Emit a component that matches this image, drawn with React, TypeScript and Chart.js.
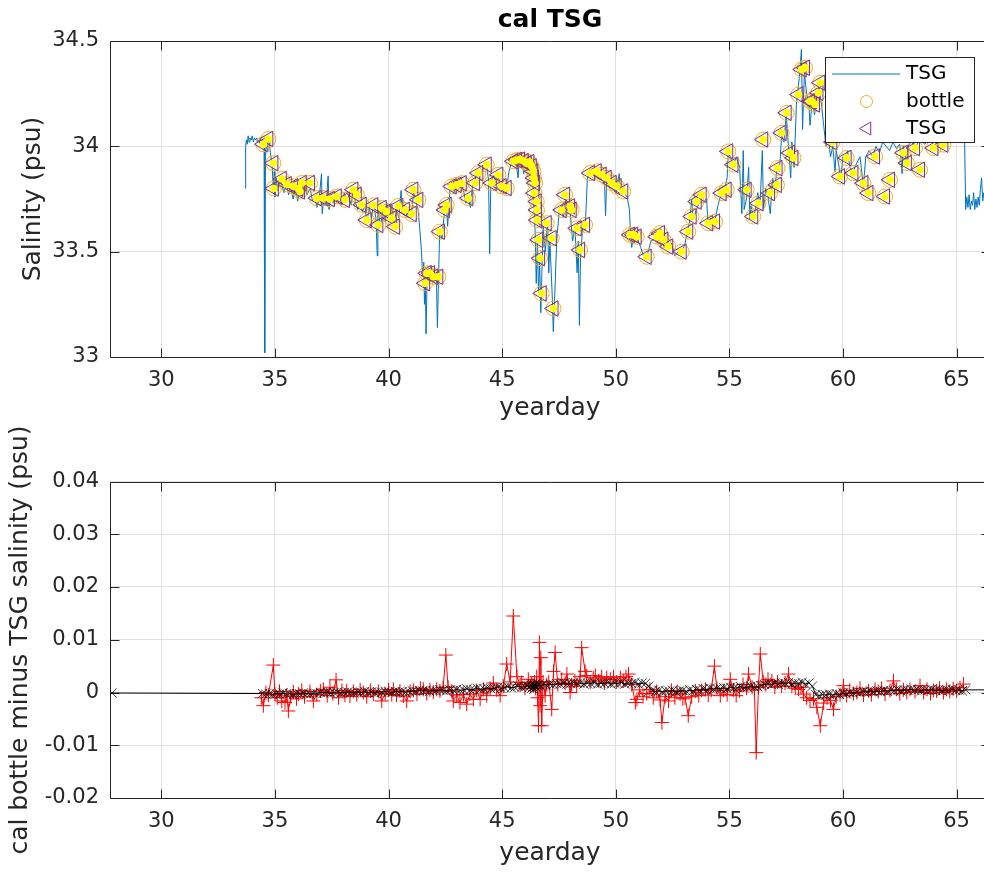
import React, { useEffect, useRef } from "react";
import { Chart, registerables } from "chart.js";
Chart.register(...registerables);

const FONT = "'DejaVu Sans', sans-serif";
const TEXT = "#262626";
const GRID = "#e1e1e1";
const BLUE = "#0072BD";
const ORANGE = "#EDB120";
const PURPLE = "#7E2F8E";
const YELLOW = "#FFFF00";

// ---------- tick values ----------
const xTicks = [30, 35, 40, 45, 50, 55, 60, 65];
const yTicksTop = [33, 33.5, 34, 34.5];
const yTicksBottom = [-0.02, -0.01, 0, 0.01, 0.02, 0.03, 0.04];
const legendLabels = ["TSG", "bottle", "TSG"];

// ---------- TSG underway record (yearday, psu) ----------
const tsgDay = [
  33.70, 33.71, 33.74, 33.78, 33.82, 33.86, 33.90, 33.95, 34.00, 34.05, 34.10, 34.15, 34.20, 34.25, 34.30, 34.35, 34.45, 34.52, 34.55, 34.58,
  34.65, 34.72, 34.80, 34.88, 34.93, 34.97, 35.00, 35.05, 35.10, 35.20, 35.30, 35.40, 35.50, 35.60, 35.70, 35.80, 35.90, 36.00, 36.10, 36.20,
  36.30, 36.40, 36.55, 36.65, 36.75, 36.85, 36.95, 37.05, 37.08, 37.15, 37.25, 37.34, 37.38, 37.45, 37.55, 37.65, 37.75, 37.85, 37.95, 38.05,
  38.15, 38.25, 38.35, 38.45, 38.55, 38.65, 38.75, 38.85, 38.95, 39.05, 39.15, 39.25, 39.35, 39.45, 39.50, 39.53, 39.65, 39.75, 39.85, 39.95,
  40.05, 40.15, 40.25, 40.35, 40.45, 40.55, 40.60, 40.70, 40.80, 40.90, 41.00, 41.10, 41.20, 41.30, 41.38, 41.45, 41.50, 41.55, 41.58, 41.62,
  41.65, 41.70, 41.80, 41.90, 42.00, 42.10, 42.15, 42.20, 42.25, 42.35, 42.45, 42.55, 42.60, 42.70, 42.80, 42.90, 43.00, 43.10, 43.20, 43.30,
  43.40, 43.50, 43.60, 43.70, 43.80, 43.90, 44.00, 44.10, 44.20, 44.30, 44.40, 44.45, 44.50, 44.60, 44.70, 44.80, 44.90, 45.00, 45.10, 45.20,
  45.30, 45.40, 45.50, 45.60, 45.70, 45.75, 45.85, 45.95, 46.00, 46.10, 46.20, 46.28, 46.35, 46.40, 46.45, 46.50, 46.55, 46.60, 46.65, 46.70,
  46.75, 46.80, 46.90, 47.00, 47.05, 47.10, 47.20, 47.25, 47.30, 47.40, 47.50, 47.60, 47.70, 47.80, 47.90, 48.00, 48.10, 48.20, 48.30, 48.35,
  48.40, 48.45, 48.55, 48.65, 48.75, 48.85, 48.95, 49.05, 49.20, 49.35, 49.50, 49.55, 49.60, 49.75, 49.90, 50.05, 50.15, 50.20, 50.35, 50.50,
  50.60, 50.65, 50.70, 50.80, 50.95, 51.10, 51.25, 51.40, 51.55, 51.70, 51.85, 52.00, 52.15, 52.30, 52.45, 52.60, 52.75, 52.90, 53.05, 53.15,
  53.25, 53.34, 53.40, 53.55, 53.70, 53.80, 54.00, 54.05, 54.20, 54.35, 54.50, 54.65, 54.80, 54.90, 54.95, 55.05, 55.15, 55.30, 55.45, 55.55,
  55.61, 55.65, 55.75, 55.85, 55.90, 55.95, 56.05, 56.15, 56.25, 56.35, 56.45, 56.50, 56.60, 56.70, 56.80, 56.90, 57.00, 57.10, 57.20, 57.30,
  57.40, 57.50, 57.60, 57.70, 57.75, 57.85, 57.95, 58.00, 58.10, 58.17, 58.22, 58.30, 58.40, 58.50, 58.55, 58.65, 58.75, 58.85, 58.95, 59.05,
  59.15, 59.25, 59.35, 59.45, 59.55, 59.65, 59.70, 59.80, 59.90, 60.00, 60.10, 60.20, 60.30, 60.45, 60.60, 60.75, 60.90, 61.00, 61.15, 61.30,
  61.45, 61.60, 61.75, 61.90, 62.05, 62.20, 62.35, 62.50, 62.60, 62.65, 62.80, 62.85, 63.00, 63.20, 63.40, 63.60, 63.80, 64.00, 64.20, 64.40,
  64.60, 64.80, 65.00, 65.20, 65.35, 65.40, 65.45, 65.50, 65.55, 65.60, 65.65, 65.70, 65.75, 65.80, 65.85, 65.90, 65.95, 66.00, 66.05, 66.10,
  66.15, 66.20, 66.30, 66.40
];
const tsgSal = [
  33.80, 34.00, 34.03, 34.01, 34.05, 34.02, 34.04, 34.03, 34.05, 34.02, 34.04, 34.03, 34.04, 34.02, 34.03, 34.01, 34.02, 34.00, 33.02, 33.95,
  34.03, 34.04, 33.97, 33.90, 33.80, 33.88, 33.76, 33.85, 33.79, 33.84, 33.82, 33.78, 33.82, 33.77, 33.80, 33.75, 33.81, 33.74, 33.80, 33.76,
  33.82, 33.77, 33.80, 33.74, 33.76, 33.71, 33.76, 33.87, 33.68, 33.75, 33.72, 33.86, 33.70, 33.76, 33.73, 33.78, 33.74, 33.76, 33.72, 33.78,
  33.74, 33.77, 33.72, 33.80, 33.73, 33.70, 33.74, 33.69, 33.72, 33.64, 33.71, 33.66, 33.73, 33.65, 33.48, 33.70, 33.62, 33.70, 33.64, 33.73,
  33.67, 33.72, 33.63, 33.70, 33.66, 33.79, 33.68, 33.72, 33.67, 33.70, 33.66, 33.78, 33.74, 33.70, 33.60, 33.50, 33.38, 33.45, 33.25, 33.35,
  33.11, 33.40, 33.37, 33.42, 33.36, 33.40, 33.14, 33.38, 33.60, 33.56, 33.68, 33.72, 33.62, 33.79, 33.82, 33.78, 33.84, 33.80, 33.83, 33.79,
  33.73, 33.76, 33.71, 33.82, 33.84, 33.88, 33.85, 33.88, 33.90, 33.92, 33.84, 33.49, 33.83, 33.86, 33.84, 33.87, 33.82, 33.80, 33.79, 33.81,
  33.88, 33.92, 33.94, 33.93, 33.85, 33.94, 33.93, 33.87, 33.94, 33.92, 33.93, 33.88, 33.82, 33.70, 33.60, 33.35, 33.55, 33.30, 33.45, 33.21,
  33.40, 33.62, 33.50, 33.65, 33.40, 33.55, 33.30, 33.12, 33.25, 33.55, 33.68, 33.72, 33.66, 33.75, 33.70, 33.68, 33.55, 33.62, 33.40, 33.55,
  33.15, 33.48, 33.62, 33.60, 33.85, 33.88, 33.87, 33.89, 33.88, 33.86, 33.85, 33.67, 33.84, 33.82, 33.81, 33.80, 33.87, 33.79, 33.78, 33.76,
  33.70, 33.58, 33.52, 33.58, 33.56, 33.52, 33.47, 33.49, 33.55, 33.56, 33.58, 33.55, 33.52, 33.51, 33.54, 33.48, 33.50, 33.49, 33.54, 33.60,
  33.64, 33.75, 33.65, 33.70, 33.74, 33.73, 33.75, 33.64, 33.66, 33.64, 33.72, 33.78, 33.80, 33.85, 33.97, 33.95, 33.90, 33.95, 33.90, 33.68,
  33.98, 33.70, 33.75, 33.90, 33.65, 33.72, 33.66, 33.70, 33.78, 33.72, 33.98, 33.70, 33.80, 33.76, 33.68, 33.85, 33.80, 33.90, 33.88, 34.05,
  34.02, 34.15, 34.00, 33.85, 34.02, 33.90, 34.20, 34.25, 34.35, 34.46, 34.08, 34.35, 34.25, 34.20, 34.10, 34.22, 34.15, 34.25, 34.28, 34.20,
  34.10, 34.00, 34.05, 33.95, 34.00, 33.88, 33.98, 33.92, 33.85, 33.95, 33.93, 33.98, 33.90, 33.88, 33.92, 33.95, 33.81, 33.95, 33.98, 33.95,
  34.00, 33.97, 34.02, 34.00, 33.98, 34.02, 33.99, 34.01, 33.87, 34.00, 33.92, 34.00, 34.02, 34.00, 34.03, 34.01, 34.04, 34.02, 34.05, 34.03,
  34.06, 34.04, 34.10, 34.08, 34.05, 33.70, 33.76, 33.71, 33.77, 33.70, 33.74, 33.72, 33.78, 33.70, 33.75, 33.71, 33.76, 33.72, 33.80, 33.85,
  33.74, 33.78, 33.73, 33.76
];

// ---------- bottle samples (yearday, psu) ----------
const bottleDay = [
  34.49, 34.71, 34.93, 34.95, 35.30, 35.52, 35.81, 36.03, 36.10, 36.18, 36.54, 36.84, 37.13, 37.42, 37.72, 38.08, 38.45, 38.60, 38.82, 39.04,
  39.33, 39.55, 39.70, 39.90, 40.14, 40.29, 40.43, 40.72, 41.02, 41.09, 41.31, 41.61, 41.68, 41.82, 41.97, 42.19, 42.26, 42.48, 42.56, 42.78,
  43.00, 43.22, 43.51, 43.81, 43.95, 44.32, 44.54, 44.83, 44.98, 45.20, 45.49, 45.65, 45.79, 45.95, 46.08, 46.20, 46.30, 46.37, 46.40, 46.45,
  46.42, 46.52, 46.53, 46.54, 46.60, 46.67, 46.74, 46.96, 47.18, 47.26, 47.62, 47.77, 47.99, 48.06, 48.28, 48.43, 48.65, 48.87, 49.16, 49.38,
  49.60, 49.82, 50.04, 50.33, 50.63, 50.77, 50.92, 51.36, 51.80, 51.95, 52.10, 52.31, 52.90, 53.19, 53.34, 53.56, 53.78, 54.07, 54.37, 54.66,
  54.88, 54.95, 55.18, 55.76, 56.05, 56.28, 56.49, 56.79, 57.09, 57.12, 57.30, 57.52, 57.67, 57.82, 58.04, 58.18, 58.33, 58.55, 58.63, 58.77,
  58.92, 59.00, 59.53, 59.87, 60.16, 60.46, 60.90, 61.12, 61.41, 61.85, 62.07, 62.66, 62.81, 63.17, 63.39, 63.98, 64.42
];
const bottleSal = [
  34.010, 34.035, 33.920, 33.800, 33.845, 33.820, 33.810, 33.800, 33.786, 33.826, 33.826, 33.754, 33.754, 33.750, 33.762, 33.746, 33.794, 33.770, 33.722, 33.650,
  33.720, 33.627, 33.707, 33.690, 33.659, 33.619, 33.717, 33.698, 33.679, 33.794, 33.746, 33.350, 33.397, 33.397, 33.381, 33.381, 33.595, 33.698, 33.722, 33.810,
  33.817, 33.825, 33.754, 33.826, 33.873, 33.913, 33.826, 33.865, 33.810, 33.802, 33.929, 33.935, 33.937, 33.930, 33.920, 33.925, 33.905, 33.881, 33.850, 33.826,
  33.778, 33.738, 33.698, 33.650, 33.556, 33.469, 33.302, 33.635, 33.564, 33.230, 33.698, 33.770, 33.715, 33.698, 33.611, 33.508, 33.627, 33.873, 33.881, 33.865,
  33.850, 33.826, 33.810, 33.786, 33.580, 33.580, 33.571, 33.476, 33.571, 33.588, 33.556, 33.524, 33.500, 33.595, 33.667, 33.738, 33.770, 33.635, 33.643, 33.778,
  33.794, 33.976, 33.913, 33.794, 33.667, 33.730, 34.032, 33.778, 33.817, 33.897, 34.064, 34.159, 33.969, 33.945, 34.246, 34.365, 34.373, 34.214, 34.214, 34.199,
  34.254, 34.302, 34.020, 33.857, 33.945, 33.873, 33.825, 33.778, 33.952, 33.762, 33.841, 33.969, 33.921, 33.992, 33.889, 33.992, 34.008
];

// ---------- cal bottle minus TSG (yearday, psu) ----------
const diffDay = [
  34.40, 34.49, 34.60, 34.71, 34.93, 35.00, 35.10, 35.20, 35.30, 35.44, 35.52, 35.59, 35.70, 35.81, 35.95, 36.03, 36.18, 36.30, 36.54, 36.69,
  36.84, 37.00, 37.13, 37.30, 37.42, 37.55, 37.69, 37.80, 37.95, 38.08, 38.16, 38.30, 38.45, 38.60, 38.75, 38.89, 39.04, 39.20, 39.33, 39.55,
  39.70, 39.85, 40.00, 40.14, 40.21, 40.35, 40.50, 40.65, 40.80, 40.95, 41.09, 41.25, 41.40, 41.53, 41.68, 41.82, 41.97, 42.12, 42.26, 42.40,
  42.52, 42.62, 42.78, 42.85, 43.00, 43.14, 43.30, 43.44, 43.58, 43.73, 43.88, 44.03, 44.18, 44.32, 44.47, 44.61, 44.76, 44.91, 45.05, 45.20,
  45.35, 45.49, 45.65, 45.79, 45.86, 46.00, 46.15, 46.25, 46.30, 46.37, 46.42, 46.47, 46.52, 46.56, 46.60, 46.64, 46.67, 46.70, 46.74, 46.80,
  46.89, 46.96, 47.05, 47.18, 47.26, 47.33, 47.45, 47.62, 47.77, 47.85, 47.99, 48.06, 48.20, 48.28, 48.43, 48.50, 48.65, 48.72, 48.87, 49.01,
  49.10, 49.25, 49.38, 49.50, 49.60, 49.76, 49.90, 50.04, 50.20, 50.33, 50.45, 50.56, 50.70, 50.86, 50.93, 51.05, 51.20, 51.36, 51.50, 51.65,
  51.80, 51.95, 52.03, 52.17, 52.32, 52.45, 52.60, 52.70, 52.83, 52.95, 53.05, 53.19, 53.34, 53.50, 53.65, 53.78, 53.95, 54.07, 54.20, 54.34,
  54.45, 54.60, 54.75, 54.90, 55.04, 55.18, 55.30, 55.45, 55.60, 55.76, 55.84, 56.00, 56.10, 56.18, 56.28, 56.36, 56.49, 56.60, 56.70, 56.87,
  57.00, 57.12, 57.30, 57.45, 57.60, 57.75, 57.90, 58.04, 58.15, 58.26, 58.40, 58.55, 58.70, 58.85, 59.00, 59.15, 59.30, 59.45, 59.58, 59.70,
  59.87, 60.02, 60.16, 60.30, 60.46, 60.61, 60.75, 60.90, 61.12, 61.25, 61.41, 61.55, 61.70, 61.85, 62.07, 62.22, 62.35, 62.50, 62.66, 62.81,
  62.95, 63.17, 63.39, 63.55, 63.70, 63.85, 63.98, 64.12, 64.25, 64.42, 64.55, 64.70, 64.85, 65.00, 65.15, 65.30
];
const diffVal = [
  -0.0010, -0.0025, 0.0000, -0.0005, 0.0052, -0.0003, -0.0010, 0.0002, -0.0016, -0.0019, -0.0005, -0.0035, -0.0008, 0.0001, -0.0012, -0.0003, 0.0004, -0.0008, 0.0002, -0.0016,
  -0.0004, 0.0003, 0.0006, -0.0006, 0.0010, -0.0002, 0.0024, -0.0010, 0.0004, -0.0005, 0.0003, -0.0007, 0.0002, -0.0004, 0.0005, 0.0000, -0.0008, 0.0004, -0.0003, 0.0002,
  -0.0016, -0.0002, 0.0005, -0.0004, 0.0006, -0.0005, 0.0003, -0.0007, -0.0016, 0.0002, 0.0004, -0.0003, 0.0008, 0.0006, -0.0002, 0.0005, 0.0001, 0.0006, 0.0003, 0.0009,
  0.0071, 0.0010, 0.0002, -0.0016, -0.0005, -0.0019, -0.0004, -0.0022, -0.0003, -0.0013, 0.0004, -0.0013, 0.0006, -0.0006, 0.0008, 0.0018, 0.0005, -0.0006, 0.0012, 0.0054,
  0.0020, 0.0145, 0.0030, 0.0015, 0.0019, 0.0008, 0.0025, 0.0012, 0.0018, 0.0013, 0.0020, 0.0008, 0.0030, -0.0010, -0.0063, 0.0095, -0.0025, 0.0066, -0.0063, 0.0020,
  -0.0006, 0.0015, 0.0020, -0.0032, 0.0040, 0.0076, 0.0015, 0.0025, 0.0018, 0.0035, 0.0000, 0.0015, 0.0022, 0.0012, 0.0030, 0.0085, 0.0040, 0.0032, 0.0020, 0.0028,
  0.0032, 0.0022, 0.0030, 0.0018, 0.0028, 0.0025, 0.0030, 0.0020, 0.0028, 0.0022, 0.0030, 0.0035, 0.0015, -0.0019, -0.0013, 0.0005, -0.0008, -0.0002, 0.0006, -0.0010,
  0.0002, -0.0014, -0.0057, -0.0008, -0.0016, 0.0004, -0.0010, 0.0002, -0.0003, -0.0012, -0.0010, -0.0044, -0.0008, 0.0003, -0.0006, 0.0004, 0.0006, -0.0005, 0.0004, 0.0050,
  0.0008, -0.0006, 0.0004, -0.0004, 0.0025, 0.0005, -0.0006, 0.0003, 0.0015, 0.0008, 0.0035, 0.0010, 0.0005, -0.0114, 0.0010, 0.0073, 0.0020, 0.0015, 0.0025, 0.0022,
  0.0010, 0.0020, 0.0012, 0.0018, 0.0035, 0.0012, 0.0008, 0.0006, 0.0010, -0.0003, -0.0010, -0.0015, -0.0012, -0.0028, -0.0063, -0.0020, -0.0010, -0.0015, -0.0032, -0.0008,
  -0.0004, 0.0013, -0.0006, 0.0004, -0.0002, 0.0000, 0.0008, -0.0005, 0.0003, -0.0004, 0.0006, 0.0002, 0.0008, -0.0003, 0.0004, 0.0022, 0.0006, -0.0002, 0.0005, 0.0000,
  0.0006, 0.0002, 0.0013, 0.0000, 0.0006, -0.0002, 0.0004, 0.0003, 0.0008, 0.0000, 0.0006, 0.0002, 0.0007, 0.0003, 0.0009, 0.0016
];

// ---------- smoothed offset (yearday, psu) ----------
const smoothDay = [
  27.83, 34.45, 34.60, 34.75, 34.90, 35.05, 35.20, 35.35, 35.50, 35.65, 35.80, 35.95, 36.10, 36.25, 36.40, 36.55, 36.70, 36.85, 37.00, 37.15,
  37.30, 37.45, 37.60, 37.75, 37.90, 38.05, 38.20, 38.35, 38.50, 38.65, 38.80, 38.95, 39.10, 39.25, 39.40, 39.55, 39.70, 39.85, 40.00, 40.15,
  40.30, 40.45, 40.60, 40.75, 40.90, 41.05, 41.20, 41.35, 41.50, 41.65, 41.80, 41.95, 42.10, 42.25, 42.40, 42.55, 42.70, 42.85, 43.00, 43.15,
  43.30, 43.45, 43.60, 43.75, 43.90, 44.05, 44.20, 44.35, 44.50, 44.65, 44.80, 44.95, 45.10, 45.25, 45.40, 45.55, 45.70, 45.85, 46.00, 46.10,
  46.20, 46.25, 46.30, 46.33, 46.36, 46.39, 46.42, 46.45, 46.48, 46.51, 46.55, 46.60, 46.70, 46.80, 46.95, 47.10, 47.25, 47.40, 47.55, 47.70,
  47.85, 48.00, 48.15, 48.30, 48.45, 48.60, 48.75, 48.90, 49.05, 49.20, 49.35, 49.50, 49.65, 49.80, 49.95, 50.10, 50.25, 50.40, 50.55, 50.70,
  50.85, 51.00, 51.15, 51.30, 51.45, 51.60, 51.75, 51.90, 52.05, 52.20, 52.35, 52.50, 52.65, 52.80, 52.95, 53.10, 53.25, 53.40, 53.55, 53.70,
  53.85, 54.00, 54.15, 54.30, 54.45, 54.60, 54.75, 54.90, 55.05, 55.20, 55.35, 55.50, 55.65, 55.80, 55.95, 56.10, 56.25, 56.40, 56.55, 56.70,
  56.85, 57.00, 57.15, 57.30, 57.45, 57.60, 57.75, 57.90, 58.05, 58.20, 58.35, 58.50, 58.65, 58.80, 58.95, 59.10, 59.25, 59.40, 59.55, 59.70,
  59.85, 60.00, 60.15, 60.30, 60.45, 60.60, 60.75, 60.90, 61.05, 61.20, 61.35, 61.50, 61.65, 61.80, 61.95, 62.10, 62.25, 62.40, 62.55, 62.70,
  62.85, 63.00, 63.15, 63.30, 63.45, 63.60, 63.75, 63.90, 64.05, 64.20, 64.35, 64.50, 64.65, 64.80, 64.95, 65.10, 65.25, 65.40, 66.60
];
const smoothVal = [
  -0.0001, -0.0002, -0.0003, -0.0002, -0.0004, -0.0002, -0.0003, -0.0001, -0.0003, -0.0002, -0.0004, -0.0002, -0.0003, -0.0001, -0.0002, -0.0003, -0.0001, -0.0002, 0.0000, -0.0001,
  0.0001, -0.0001, 0.0000, 0.0001, -0.0001, 0.0000, 0.0001, 0.0000, -0.0001, 0.0001, 0.0000, 0.0002, 0.0000, 0.0001, -0.0001, 0.0001, 0.0000, 0.0002, 0.0001, 0.0000,
  0.0002, 0.0001, 0.0002, 0.0000, 0.0002, 0.0003, 0.0002, 0.0004, 0.0003, 0.0004, 0.0002, 0.0004, 0.0003, 0.0005, 0.0004, 0.0003, 0.0005, 0.0004, 0.0006, 0.0004,
  0.0005, 0.0007, 0.0005, 0.0006, 0.0008, 0.0006, 0.0007, 0.0009, 0.0007, 0.0008, 0.0010, 0.0008, 0.0009, 0.0011, 0.0009, 0.0010, 0.0012, 0.0010, 0.0011, 0.0013,
  0.0010, 0.0014, 0.0008, 0.0016, 0.0011, 0.0006, 0.0015, 0.0012, 0.0017, 0.0009, 0.0013, 0.0016, 0.0012, 0.0015, 0.0014, 0.0016, 0.0015, 0.0017, 0.0016, 0.0018,
  0.0016, 0.0017, 0.0019, 0.0017, 0.0018, 0.0016, 0.0018, 0.0017, 0.0019, 0.0016, 0.0018, 0.0017, 0.0019, 0.0016, 0.0018, 0.0017, 0.0019, 0.0016, 0.0018, 0.0017,
  0.0019, 0.0016, 0.0018, 0.0017, 0.0012, 0.0004, 0.0002, 0.0004, 0.0001, 0.0003, 0.0002, 0.0004, 0.0001, 0.0003, 0.0004, 0.0002, 0.0005, 0.0003, 0.0006, 0.0004,
  0.0007, 0.0005, 0.0008, 0.0006, 0.0008, 0.0007, 0.0009, 0.0007, 0.0010, 0.0008, 0.0009, 0.0011, 0.0009, 0.0010, 0.0012, 0.0010, 0.0011, 0.0013, 0.0015, 0.0017,
  0.0015, 0.0018, 0.0016, 0.0018, 0.0017, 0.0019, 0.0016, 0.0018, 0.0017, 0.0019, 0.0016, 0.0018, 0.0012, -0.0004, -0.0006, -0.0004, -0.0005, -0.0003, -0.0005, -0.0002,
  -0.0004, -0.0001, -0.0003, 0.0000, -0.0001, 0.0001, 0.0000, 0.0002, 0.0001, 0.0003, 0.0001, 0.0003, 0.0002, 0.0004, 0.0002, 0.0004, 0.0003, 0.0005, 0.0003, 0.0005,
  0.0004, 0.0006, 0.0004, 0.0005, 0.0003, 0.0005, 0.0004, 0.0006, 0.0004, 0.0005, 0.0003, 0.0005, 0.0004, 0.0006, 0.0004, 0.0005, 0.0003, 0.0005, 0.0005
];

const pts = (xs: number[], ys: number[]) => xs.map((x, i) => ({ x, y: ys[i] }));
const fmt = (v: number) => String(Math.round(v * 1000) / 1000);

type TextItem = { text: string; x: number; y: number; size: number; bold?: boolean; rotate?: boolean };

const makeTextPlugin = (items: TextItem[]) => ({
  id: "axisTexts",
  afterDraw(chart: any) {
    const ctx = chart.ctx;
    items.forEach((it) => {
      ctx.save();
      ctx.font = `${it.bold ? "bold " : ""}${it.size}px ${FONT}`;
      ctx.fillStyle = it.bold ? "#000" : TEXT;
      ctx.textAlign = "center";
      ctx.textBaseline = "middle";
      ctx.translate(it.x, it.y);
      if (it.rotate) ctx.rotate(-Math.PI / 2);
      ctx.fillText(it.text, 0, 0);
      ctx.restore();
    });
  },
});

const framePlugin = {
  id: "frame",
  beforeDatasetsDraw(chart: any) {
    const { ctx, chartArea } = chart;
    const { x, y } = chart.scales;
    const L = Math.round(chartArea.left) + 0.5;
    const R = Math.round(chartArea.right) + 0.5;
    const T = Math.round(chartArea.top) + 0.5;
    const B = Math.round(chartArea.bottom) + 0.5;
    const TL = 9;
    ctx.save();
    ctx.strokeStyle = TEXT;
    ctx.lineWidth = 1;
    ctx.beginPath();
    ctx.rect(L, T, R - L, B - T);
    x.ticks.forEach((t: any) => {
      const p = Math.round(x.getPixelForValue(t.value)) + 0.5;
      ctx.moveTo(p, B);
      ctx.lineTo(p, B - TL);
      ctx.moveTo(p, T);
      ctx.lineTo(p, T + TL);
    });
    y.ticks.forEach((t: any) => {
      const p = Math.round(y.getPixelForValue(t.value)) + 0.5;
      ctx.moveTo(L, p);
      ctx.lineTo(L + TL, p);
      ctx.moveTo(R, p);
      ctx.lineTo(R - TL, p);
    });
    ctx.stroke();
    ctx.restore();
  },
};

const legendPlugin = {
  id: "matlabLegend",
  afterDatasetsDraw(chart: any) {
    const ctx = chart.ctx;
    ctx.save();
    ctx.fillStyle = "#fff";
    ctx.fillRect(825.5, 57.5, 149, 85);
    ctx.strokeStyle = TEXT;
    ctx.lineWidth = 1;
    ctx.strokeRect(825.5, 57.5, 149, 85);
    // line sample
    ctx.strokeStyle = BLUE;
    ctx.beginPath();
    ctx.moveTo(832, 74);
    ctx.lineTo(900, 74);
    ctx.stroke();
    // circle sample
    ctx.strokeStyle = ORANGE;
    ctx.beginPath();
    ctx.arc(866.5, 101.5, 6, 0, Math.PI * 2);
    ctx.stroke();
    // triangle sample (pointing left)
    const r = 7.5, cx = 867, cy = 128.5;
    ctx.strokeStyle = PURPLE;
    ctx.beginPath();
    ctx.moveTo(cx - r, cy);
    ctx.lineTo(cx + r / 2, cy - r * 0.866);
    ctx.lineTo(cx + r / 2, cy + r * 0.866);
    ctx.closePath();
    ctx.stroke();
    ctx.fillStyle = "#000";
    ctx.font = `20px ${FONT}`;
    ctx.textAlign = "left";
    ctx.textBaseline = "middle";
    ctx.fillText(legendLabels[0], 906, 74);
    ctx.fillText(legendLabels[1], 906, 101.5);
    ctx.fillText(legendLabels[2], 906, 128.5);
    ctx.restore();
  },
};

const X_MIN = 27.74;
const X_MAX = 66.47;

const xScale = (height: number) => ({
  type: "linear",
  min: X_MIN,
  max: X_MAX,
  afterBuildTicks: (s: any) => {
    s.ticks = xTicks.map((value) => ({ value }));
  },
  afterFit: (s: any) => {
    s.height = height;
  },
  border: { display: false },
  grid: { color: GRID, lineWidth: 1, drawTicks: false },
  ticks: {
    color: TEXT,
    font: { family: FONT, size: 21 },
    padding: 11,
    maxRotation: 0,
    autoSkip: false,
    callback: (v: any) => fmt(Number(v)),
  },
});

const yScale = (min: number, max: number, ticks: number[]) => ({
  type: "linear",
  min,
  max,
  afterBuildTicks: (s: any) => {
    s.ticks = ticks.map((value) => ({ value }));
  },
  afterFit: (s: any) => {
    s.width = 110;
  },
  border: { display: false },
  grid: { color: GRID, lineWidth: 1, drawTicks: false },
  ticks: {
    color: TEXT,
    font: { family: FONT, size: 21 },
    padding: 11,
    autoSkip: false,
    callback: (v: any) => fmt(Number(v)),
  },
});

// bottom canvas starts at page y = 416 and is transparent, so it can overlap the top one
const BOT_TOP = 416;

export default function App() {
  const topRef = useRef<HTMLCanvasElement | null>(null);
  const botRef = useRef<HTMLCanvasElement | null>(null);

  useEffect(() => {
    const bottlePts = pts(bottleDay, bottleSal);
    const top = new Chart(topRef.current as HTMLCanvasElement, {
      type: "scatter",
      data: {
        datasets: [
          {
            label: "cal bottle",
            data: bottlePts,
            order: 0,
            showLine: false,
            pointStyle: "circle",
            pointRadius: 3.8,
            pointBackgroundColor: YELLOW,
            pointBorderWidth: 0,
            pointBorderColor: YELLOW,
          },
          {
            label: legendLabels[2],
            data: bottlePts,
            order: 1,
            showLine: false,
            pointStyle: "triangle",
            pointRotation: -90,
            pointRadius: 9,
            pointBackgroundColor: "rgba(0,0,0,0)",
            pointBorderColor: PURPLE,
            pointBorderWidth: 1,
          },
          {
            label: legendLabels[1],
            data: bottlePts,
            order: 2,
            showLine: false,
            pointStyle: "circle",
            pointRadius: 7.5,
            pointBackgroundColor: "rgba(0,0,0,0)",
            pointBorderColor: ORANGE,
            pointBorderWidth: 1,
          },
          {
            label: legendLabels[0],
            data: pts(tsgDay, tsgSal),
            order: 3,
            showLine: true,
            borderColor: BLUE,
            borderWidth: 1,
            pointRadius: 0,
          },
        ],
      } as any,
      options: {
        animation: false,
        responsive: false,
        events: [],
        layout: { autoPadding: false, padding: { top: 41, right: 10, left: 0, bottom: 0 } },
        plugins: { legend: { display: false }, tooltip: { enabled: false }, title: { display: false } },
        scales: {
          x: xScale(79),
          y: yScale(33, 34.5, yTicksTop),
        },
      } as any,
      plugins: [
        framePlugin,
        legendPlugin,
        makeTextPlugin([
          { text: "cal TSG", x: 550, y: 20, size: 25, bold: true },
          { text: "yearday", x: 550, y: 408, size: 25 },
          { text: "Salinity (psu)", x: 33, y: 199, size: 25, rotate: true },
        ]),
      ],
    });

    const bot = new Chart(botRef.current as HTMLCanvasElement, {
      type: "scatter",
      data: {
        datasets: [
          {
            label: "smoothed",
            data: pts(smoothDay, smoothVal),
            order: 0,
            showLine: true,
            borderColor: "#000",
            borderWidth: 1,
            pointStyle: "crossRot",
            pointRadius: 6.5,
            pointBorderColor: "rgba(0,0,0,0.75)",
            pointBorderWidth: 1,
          },
          {
            label: "cal bottle minus TSG",
            data: pts(diffDay, diffVal),
            order: 1,
            showLine: true,
            borderColor: "#FF0000",
            borderWidth: 1,
            pointStyle: "cross",
            pointRadius: 7,
            pointBorderColor: "#FF0000",
            pointBorderWidth: 1,
          },
        ],
      } as any,
      options: {
        animation: false,
        responsive: false,
        events: [],
        layout: { autoPadding: false, padding: { top: 481.5 - BOT_TOP, right: 10, left: 0, bottom: 0 } },
        plugins: { legend: { display: false }, tooltip: { enabled: false }, title: { display: false } },
        scales: {
          x: xScale(74),
          y: yScale(-0.02, 0.04, yTicksBottom),
        },
      } as any,
      plugins: [
        framePlugin,
        makeTextPlugin([
          { text: "yearday", x: 550, y: 853 - BOT_TOP, size: 25 },
          { text: "cal bottle minus TSG salinity (psu)", x: 20, y: 640 - BOT_TOP, size: 25, rotate: true },
        ]),
      ],
    });

    return () => {
      top.destroy();
      bot.destroy();
    };
  }, []);

  return (
    <div
      style={{
        position: "absolute",
        left: 0,
        top: 0,
        width: 984,
        height: 872,
        overflow: "hidden",
        background: "#fff",
      }}
    >
      <canvas
        ref={topRef}
        width={1000}
        height={436}
        style={{ position: "absolute", left: 0, top: 0, width: 1000, height: 436 }}
      />
      <canvas
        ref={botRef}
        width={1000}
        height={872 - BOT_TOP}
        style={{ position: "absolute", left: 0, top: BOT_TOP, width: 1000, height: 872 - BOT_TOP }}
      />
    </div>
  );
}
